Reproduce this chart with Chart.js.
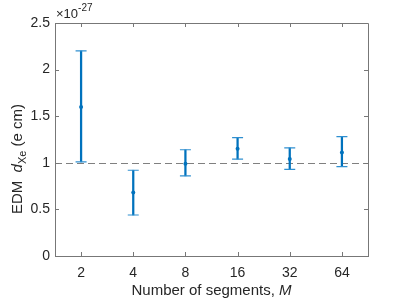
<!DOCTYPE html>
<html>
<head>
<meta charset="utf-8">
<script src="https://cdn.jsdelivr.net/npm/chart.js@4"></script>
<style>
  body { margin: 0; background: #fff; }
  #chart { display: block; }
</style>
</head>
<body>
<canvas id="chart" width="407" height="300"></canvas>
<script>
// number of segments M
const segments = ['2', '4', '8', '16', '32', '64'];
// EDM estimate (units of 1e-27 e cm) and its error bar ends
const means = [1.60, 0.68, 0.99, 1.15, 1.04, 1.11];
const upper = [2.20, 0.92, 1.14, 1.27, 1.16, 1.28];
const lower = [1.01, 0.44, 0.86, 1.04, 0.93, 0.96];
const referenceLevel = 1;
const yTicks = [0, 0.5, 1, 1.5, 2, 2.5];

const blue = '#0072BD';
const axisColor = '#777777';
const textColor = '#262626';
const fontFamily = '"Liberation Sans", Arial, Helvetica, sans-serif';

const matlabAxes = {
    id: 'matlabAxes',
    beforeDatasetsDraw(chart) {
        const { ctx, chartArea, scales } = chart;
        const y = scales.y.getPixelForValue(referenceLevel);
        ctx.save();
        ctx.strokeStyle = '#808080';
        ctx.lineWidth = 1;
        ctx.setLineDash([7, 4]);
        ctx.beginPath();
        ctx.moveTo(chartArea.left, Math.round(y) + 0.5);
        ctx.lineTo(chartArea.right, Math.round(y) + 0.5);
        ctx.stroke();
        ctx.restore();
    },
    afterDraw(chart) {
        const { ctx, chartArea, scales } = chart;
        const { left, right, top, bottom } = chartArea;
        ctx.save();
        ctx.strokeStyle = axisColor;
        ctx.lineWidth = 1;
        // box
        ctx.beginPath();
        ctx.moveTo(left, top + 0.5);
        ctx.lineTo(right + 0.5, top + 0.5);
        ctx.lineTo(right + 0.5, bottom);
        ctx.stroke();
        // inward ticks
        const tl = 4;
        ctx.beginPath();
        scales.x.ticks.forEach((t, i) => {
            const x = Math.round(scales.x.getPixelForTick(i)) + 0.5;
            ctx.moveTo(x, bottom); ctx.lineTo(x, bottom - tl);
            ctx.moveTo(x, top); ctx.lineTo(x, top + tl);
        });
        yTicks.forEach(v => {
            const y = Math.round(scales.y.getPixelForValue(v)) + 0.5;
            ctx.moveTo(left, y); ctx.lineTo(left + tl, y);
            ctx.moveTo(right, y); ctx.lineTo(right - tl, y);
        });
        ctx.stroke();

        ctx.fillStyle = textColor;
        ctx.textBaseline = 'alphabetic';
        // exponent label
        ctx.font = '13px ' + fontFamily;
        ctx.textAlign = 'left';
        ctx.fillText('\u00d710', left + 1, top - 5);
        const w10 = ctx.measureText('\u00d710').width;
        ctx.font = '10px ' + fontFamily;
        ctx.fillText('-27', left + 1 + w10, top - 12);

        // x title
        const xParts = [
            { t: 'Number of segments, ', f: '15px ' + fontFamily, dy: 0 },
            { t: 'M', f: 'italic 15px ' + fontFamily, dy: 0 }
        ];
        drawParts(ctx, xParts, (left + right) / 2, 295);

        // y title
        const yParts = [
            { t: 'EDM  ', f: '15px ' + fontFamily, dy: 0 },
            { t: 'd', f: 'italic 15px ' + fontFamily, dy: 0 },
            { t: 'Xe', f: '11px ' + fontFamily, dy: 4 },
            { t: ' (e cm)', f: '15px ' + fontFamily, dy: 0 }
        ];
        ctx.translate(22, 159);
        ctx.rotate(-Math.PI / 2);
        drawParts(ctx, yParts, 0, 0);
        ctx.restore();
    }
};

function drawParts(ctx, parts, cx, baseline) {
    let total = 0;
    parts.forEach(p => { ctx.font = p.f; p.w = ctx.measureText(p.t).width; total += p.w; });
    let x = cx - total / 2;
    ctx.textAlign = 'left';
    parts.forEach(p => {
        ctx.font = p.f;
        ctx.fillText(p.t, x, baseline + p.dy);
        x += p.w;
    });
}

const capStyle = {
    type: 'line',
    showLine: false,
    pointStyle: 'line',
    pointRadius: 5.5,
    pointHoverRadius: 5.5,
    pointBorderWidth: 1.2,
    borderColor: '#2f8fd0',
    backgroundColor: '#2f8fd0'
};

new Chart(document.getElementById('chart'), {
    type: 'bar',
    data: {
        labels: segments,
        datasets: [
            {
                type: 'line',
                data: means,
                showLine: false,
                pointStyle: 'circle',
                pointRadius: 2,
                pointBorderWidth: 0,
                backgroundColor: blue,
                borderColor: blue,
                order: 0
            },
            { ...capStyle, data: upper, order: 1 },
            { ...capStyle, data: lower, order: 1 },
            {
                data: segments.map((s, i) => [lower[i], upper[i]]),
                backgroundColor: blue,
                borderWidth: 0,
                barThickness: 1.6,
                order: 2
            }
        ]
    },
    options: {
        responsive: false,
        animation: false,
        devicePixelRatio: 1,
        layout: { padding: { top: 23, right: 39, left: 0, bottom: 0 } },
        plugins: { legend: { display: false }, tooltip: { enabled: false } },
        scales: {
            x: {
                offset: true,
                grid: { display: false, drawTicks: false },
                border: { display: true, color: axisColor, width: 1 },
                ticks: { color: textColor, padding: 9, font: { family: fontFamily, size: 14 } },
                afterFit(scale) { scale.height = 44; }
            },
            y: {
                min: 0,
                max: 2.5,
                afterBuildTicks(scale) { scale.ticks = yTicks.map(v => ({ value: v })); },
                grid: { display: false, drawTicks: false },
                border: { display: true, color: axisColor, width: 1 },
                ticks: {
                    color: textColor,
                    padding: 5,
                    font: { family: fontFamily, size: 14 },
                    callback: v => String(v)
                },
                afterFit(scale) { scale.width = 55; }
            }
        }
    },
    plugins: [matlabAxes]
});
</script>
</body>
</html>
